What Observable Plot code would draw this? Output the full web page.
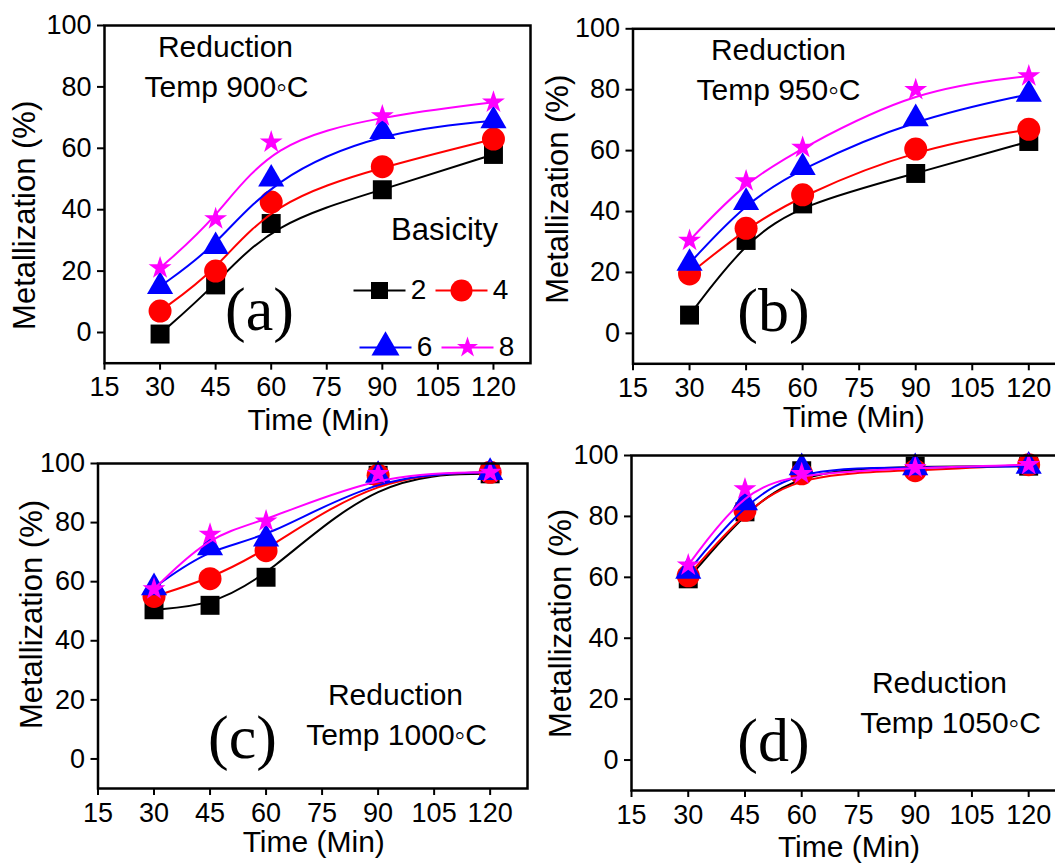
<!DOCTYPE html>
<html><head><meta charset="utf-8">
<script src="https://cdn.jsdelivr.net/npm/d3@7"></script>
<script src="https://cdn.jsdelivr.net/npm/@observablehq/plot@0.6"></script>
<style>
body{margin:0;background:#fff;overflow:hidden;}
#chart{position:relative;width:1055px;height:863px;overflow:hidden;background:#fff;}
#chart svg{position:absolute;}
</style></head><body><div id="chart"></div>
<script>
// ---- data ----
const times = [30, 45, 60, 90, 120];
const basicity = ["2", "4", "6", "8"];
const xTicks = [15, 30, 45, 60, 75, 90, 105, 120];
const yTicks = [0, 20, 40, 60, 80, 100];
const temps = ["900", "950", "1000", "1050"];
const panelLetters = ["(a)", "(b)", "(c)", "(d)"];
const xTitle = "Time (Min)";
const yTitle = "Metallization (%)";
const legendTitle = "Basicity";
// metallization (%) per basicity (rows 2,4,6,8) at each time
const m900 = [
  [-0.5, 15.5, 35.5, 46.5, 58],
  [7, 20, 42.5, 54, 63],
  [15, 28, 50, 65.5, 69],
  [21, 37, 62, 70.5, 75]
];
const m950 = [
  [6, 30.5, 42.5, 52.5, 63],
  [19.5, 34.5, 45.5, 60.5, 67],
  [23, 43, 54.5, 70.5, 78.5],
  [30.5, 50, 61, 80, 84.5]
];
const m1000 = [
  [50.5, 52, 61.5, 96, 96.5],
  [55, 61, 70.5, 96, 97],
  [58, 71.5, 74.5, 96, 97],
  [57.5, 76, 80.5, 96.5, 97]
];
const m1050 = [
  [59.5, 81.5, 95, 96.5, 96.5],
  [60.5, 82, 94, 95, 97],
  [62, 84.5, 96, 96, 96.5],
  [64, 89, 94, 96, 97]
];

// ---- styles ----
const seriesStyle = [
  {color: "#000000", symbol: "square", r: 10.7, lr: 9.6},
  {color: "#ff0000", symbol: "circle", r: 11.5, lr: 11},
  {color: "#0000ff", symbol: "triangle", r: 9.7, lr: 10.4},
  {color: "#ff00ff", symbol: "star", r: 7.2, lr: 6.6}
];
const FONT = "Liberation Sans, Arial, sans-serif";
const SERIF = "Liberation Serif, Times New Roman, serif";
const lineSymbol = {draw(ctx) { ctx.moveTo(-26, 0); ctx.lineTo(26, 0); }};
const T = {textAnchor: "middle", lineAnchor: "middle", fontFamily: FONT};

const layouts = [
  {pos: [0, 0], size: [540, 440], frame: [104, 530, 25, 362.7],
   yT: [-79, 21], xT: [1, 57], red: [121, 22], tmp: [122, 62], let: [155, 285], legend: true},
  {pos: [530, 0], size: [546, 440], frame: [632.5, 1066, 28.3, 363.3],
   yT: [-74.5, -7], xT: [4, 54], red: [145.5, 21.7], tmp: [145.5, 61.7], let: [140.5, 282]},
  {pos: [0, 440], size: [537, 423], frame: [97.5, 527, 463, 788],
   yT: [-65.5, -11.5], xT: [1, 54], red: [297.5, 232], tmp: [298.5, 272], let: [144.5, 275]},
  {pos: [530, 440], size: [546, 423], frame: [631, 1066, 455, 790],
   yT: [-70, 0.5], xT: [0, 57], red: [308, 228], tmp: [319, 268], let: [142, 286]}
];
const panelValues = [m900, m950, m1000, m1050];

const chart = document.getElementById("chart");

layouts.forEach((L, p) => {
  const vals = panelValues[p];
  const rows = [];
  basicity.forEach((b, i) => times.forEach((t, j) => rows.push({b, i, t, m: vals[i][j]})));
  const [fl, fr, ft, fb] = L.frame;
  const marks = [];
  // data
  basicity.forEach((b, i) => {
    const s = seriesStyle[i];
    const d = rows.filter(r => r.b === b);
    marks.push(Plot.line(d, {x: "t", y: "m", curve: "basis", stroke: s.color, strokeWidth: 2}));
    marks.push(Plot.dot(d, {x: "t", y: "m", symbol: s.symbol, r: s.r, fill: s.color, stroke: "none"}));
  });
  marks.push(Plot.frame({strokeWidth: 2.5}));
  marks.push(Plot.axisX({ticks: xTicks, tickSize: 7, tickPadding: 7, strokeWidth: 2, label: null, fontSize: 27}));
  marks.push(Plot.axisY({ticks: yTicks, tickSize: 7, tickPadding: 6, strokeWidth: 2, label: null, fontSize: 27}));
  // axis titles
  marks.push(Plot.text([yTitle], {...T, frameAnchor: "left", rotate: -90, dx: L.yT[0], dy: L.yT[1], fontSize: 31}));
  marks.push(Plot.text([xTitle], {...T, frameAnchor: "bottom", dx: L.xT[0], dy: L.xT[1], fontSize: 30}));
  // annotations
  marks.push(Plot.text(["Reduction"], {...T, frameAnchor: "top-left", dx: L.red[0], dy: L.red[1], fontSize: 30}));
  marks.push(Plot.text([`Temp ${temps[p]}\u25E6C`], {...T, frameAnchor: "top-left", dx: L.tmp[0], dy: L.tmp[1], fontSize: 30}));
  marks.push(Plot.text([panelLetters[p]], {...T, frameAnchor: "top-left", dx: L.let[0], dy: L.let[1], fontSize: 62, fontFamily: SERIF}));
  if (L.legend) {
    marks.push(Plot.text([legendTitle], {...T, frameAnchor: "top-left", dx: 444 - fl, dy: 230 - ft, fontSize: 31}));
    basicity.forEach((b, i) => {
      const s = seriesStyle[i];
      const c = i % 2, r = Math.floor(i / 2);
      const x0 = 353 + c * 82 + r * 6;
      const y0 = 290 + r * 57;
      marks.push(Plot.dot([b], {frameAnchor: "top-left", dx: x0 + 26 - fl, dy: y0 - ft, symbol: lineSymbol, stroke: s.color, strokeWidth: 2, fill: "none"}));
      marks.push(Plot.dot([b], {frameAnchor: "top-left", dx: x0 + 26 - fl, dy: y0 - ft, symbol: s.symbol, r: s.lr, fill: s.color, stroke: "none"}));
      marks.push(Plot.text([b], {...T, frameAnchor: "top-left", dx: x0 + 65 - fl, dy: y0 - ft, fontSize: 28}));
    });
  }
  const svg = Plot.plot({
    width: L.size[0], height: L.size[1],
    marginLeft: fl - L.pos[0], marginRight: L.pos[0] + L.size[0] - fr,
    marginTop: ft - L.pos[1], marginBottom: L.pos[1] + L.size[1] - fb,
    x: {domain: [15, 130], nice: false},
    y: {domain: [-10, 100], nice: false},
    style: {fontFamily: FONT, fontSize: "27px", background: "transparent", overflow: "visible", color: "black"},
    marks
  });
  svg.style.left = L.pos[0] + "px";
  svg.style.top = L.pos[1] + "px";
  svg.style.maxWidth = "none";
  chart.appendChild(svg);
});
</script></body></html>
